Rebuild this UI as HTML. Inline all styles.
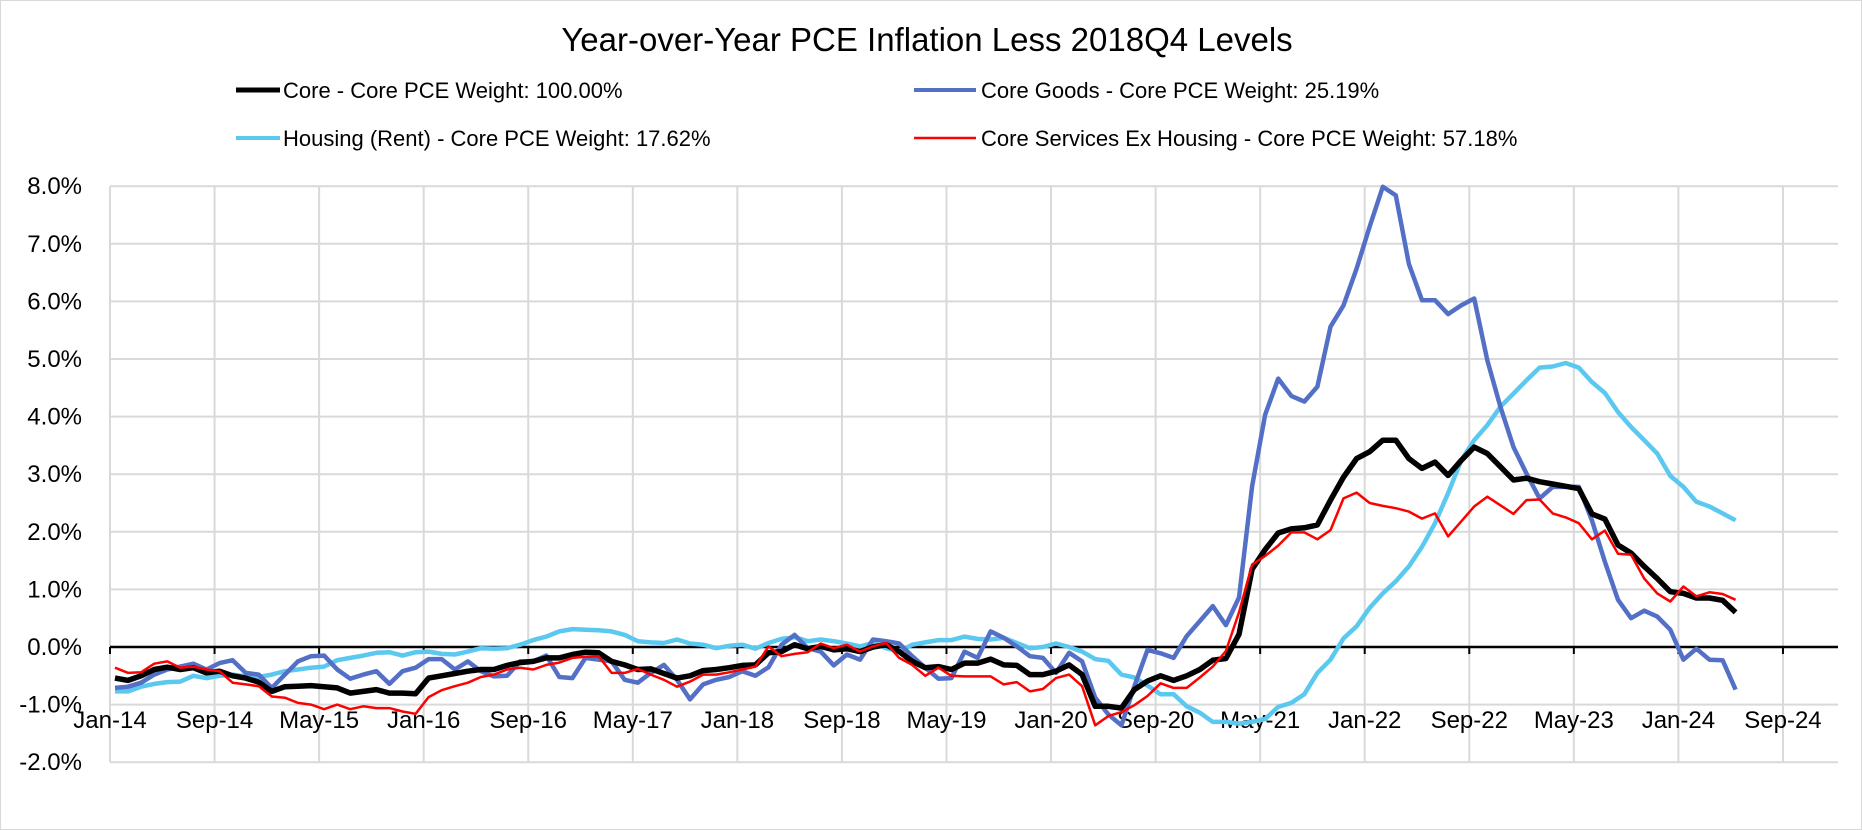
<!DOCTYPE html>
<html><head><meta charset="utf-8"><style>
html,body{margin:0;padding:0;background:#fff;}
#wrap{position:relative;width:1862px;height:830px;overflow:hidden;font-family:"Liberation Sans",sans-serif;}
</style></head><body>
<div id="wrap">
<svg id="chart" width="1862" height="830" viewBox="0 0 1862 830" xmlns="http://www.w3.org/2000/svg">
<rect x="0.5" y="0.5" width="1861" height="829" fill="#fff" stroke="#d9d9d9"/>
<text x="927" y="51" text-anchor="middle" font-size="33" fill="#000">Year-over-Year PCE Inflation Less 2018Q4 Levels</text>
<g>
<g><line x1="236" y1="90" x2="280" y2="90" stroke="#000" stroke-width="5"/><text x="283" y="98" font-size="22">Core - Core PCE Weight: 100.00%</text></g>
<g><line x1="914" y1="90" x2="976" y2="90" stroke="#5470C6" stroke-width="4"/><text x="981" y="98" font-size="22">Core Goods - Core PCE Weight: 25.19%</text></g>
<g><line x1="236" y1="138" x2="280" y2="138" stroke="#5BC8F0" stroke-width="4"/><text x="283" y="146" font-size="22">Housing (Rent) - Core PCE Weight: 17.62%</text></g>
<g><line x1="914" y1="138" x2="976" y2="138" stroke="#FF0000" stroke-width="2.5"/><text x="981" y="146" font-size="22">Core Services Ex Housing - Core PCE Weight: 57.18%</text></g>
</g>
<g id="grid"></g><g id="axes"></g><g id="series"></g>
</svg>
</div>
<script>
const yTicks=[-2,-1,0,1,2,3,4,5,6,7,8];
const xTickLabels=["Jan-14","Sep-14","May-15","Jan-16","Sep-16","May-17","Jan-18","Sep-18","May-19","Jan-20","Sep-20","May-21","Jan-22","Sep-22","May-23","Jan-24","Sep-24"];
const core=[-0.54,-0.58,-0.5,-0.39,-0.35,-0.39,-0.36,-0.45,-0.42,-0.5,-0.54,-0.61,-0.77,-0.69,-0.68,-0.67,-0.69,-0.71,-0.8,-0.77,-0.74,-0.8,-0.8,-0.81,-0.54,-0.5,-0.46,-0.42,-0.39,-0.39,-0.32,-0.27,-0.25,-0.19,-0.19,-0.13,-0.09,-0.1,-0.25,
-0.31,-0.39,-0.38,-0.46,-0.54,-0.5,-0.41,-0.39,-0.36,-0.32,-0.31,-0.1,-0.08,0.04,-0.03,0.01,-0.05,-0.03,-0.08,0,0.04,-0.08,-0.25,-0.36,-0.34,-0.39,-0.28,-0.28,-0.21,-0.31,-0.32,-0.48,-0.48,-0.42,-0.31,-0.48,-1.03,-1.03,
-1.06,-0.74,-0.59,-0.5,-0.58,-0.5,-0.39,-0.23,-0.2,0.22,1.35,1.69,1.98,2.05,2.07,
2.12,2.55,2.95,3.27,3.39,3.59,3.59,3.27,3.1,3.21,2.98,3.24,3.47,3.36,3.13,2.9,2.93,2.87,2.83,2.79,2.75,2.31,2.22,1.77,1.63,1.4,1.19,0.96,0.93,0.85,0.85,0.81,0.6];
const goods=[-0.71,-0.69,-0.62,-0.48,-0.39,-0.34,-0.29,-0.39,-0.28,-0.23,-0.45,-0.48,-0.71,-0.48,-0.25,-0.16,-0.15,-0.39,-0.55,-0.48,-0.42,-0.64,-0.42,-0.36,-0.21,-0.21,-0.39,-0.25,-0.42,-0.51,-0.5,-0.25,-0.25,-0.15,-0.52,-0.54,-0.19,-0.22,-0.25,
-0.57,-0.62,-0.45,-0.31,-0.57,-0.91,-0.65,-0.57,-0.52,-0.42,-0.5,-0.35,0.04,0.21,-0.02,-0.08,-0.32,-0.13,-0.22,0.13,0.1,0.06,-0.16,-0.36,-0.55,-0.54,-0.08,-0.19,0.27,0.16,0.01,-0.16,-0.19,-0.45,-0.1,-0.25,-0.88,-1.17,
-1.36,-0.68,-0.05,-0.11,-0.19,0.19,0.45,0.71,0.38,0.86,2.79,4.03,4.66,4.36,4.26,
4.52,5.56,5.93,6.57,7.3,7.99,7.84,6.65,6.02,6.02,5.78,5.93,6.05,4.98,4.17,3.47,3.01,2.58,2.78,2.78,2.78,2.2,1.48,0.82,0.5,0.63,0.53,0.3,-0.22,-0.03,-0.22,-0.23,-0.74];
const housing=[-0.77,-0.77,-0.69,-0.64,-0.61,-0.6,-0.5,-0.54,-0.5,-0.48,-0.51,-0.52,-0.48,-0.42,-0.39,-0.36,-0.34,-0.23,-0.19,-0.15,-0.1,-0.09,-0.15,-0.09,-0.08,-0.12,-0.13,-0.08,-0.02,-0.03,-0.02,0.04,0.12,0.18,0.27,0.31,0.3,0.29,0.27,
0.21,0.1,0.08,0.07,0.13,0.06,0.04,-0.02,0.02,0.04,-0.03,0.07,0.14,0.17,0.1,0.13,0.1,0.06,0.01,0.07,-0.02,-0.08,0.04,0.08,0.12,0.12,0.18,0.14,0.13,0.16,0.07,-0.02,0,0.06,0,-0.08,-0.21,-0.24,
-0.48,-0.53,-0.67,-0.82,-0.82,-1.03,-1.14,-1.3,-1.3,-1.33,-1.3,-1.25,-1.04,-0.97,-0.82,
-0.45,-0.22,0.15,0.36,0.68,0.93,1.14,1.4,1.74,2.15,2.67,3.24,3.59,3.85,4.17,4.4,4.63,4.85,4.87,4.93,4.85,4.6,4.41,4.08,3.82,3.59,3.36,2.97,2.78,2.52,2.44,2.32,2.2];
const servicesExHousing=[-0.36,-0.45,-0.44,-0.29,-0.25,-0.36,-0.34,-0.39,-0.42,-0.62,-0.65,-0.68,-0.86,-0.88,-0.97,-1.0,-1.08,-1.0,-1.08,-1.03,-1.06,-1.06,-1.12,-1.16,-0.87,-0.75,-0.68,-0.62,-0.52,-0.48,-0.39,-0.36,-0.39,-0.31,-0.27,-0.19,-0.17,-0.16,-0.45,
-0.45,-0.38,-0.48,-0.57,-0.69,-0.6,-0.48,-0.48,-0.44,-0.39,-0.34,0.01,-0.16,-0.12,-0.09,0.06,-0.02,0.04,-0.08,0.01,0.07,-0.19,-0.31,-0.5,-0.36,-0.5,-0.51,-0.51,-0.51,-0.65,-0.61,-0.77,-0.73,-0.54,-0.48,-0.68,-1.36,-1.2,
-1.13,-1.01,-0.85,-0.63,-0.71,-0.71,-0.53,-0.34,-0.07,0.6,1.43,1.58,1.76,1.99,1.99,
1.87,2.03,2.58,2.68,2.5,2.45,2.41,2.35,2.23,2.32,1.92,2.18,2.44,2.61,2.46,2.31,2.55,2.56,2.32,2.25,2.15,1.87,2.02,1.62,1.6,1.19,0.93,0.79,1.05,0.88,0.95,0.92,0.82];

const NS="http://www.w3.org/2000/svg";
const L=110,R=1838,PM=13.07;
function xMonth(m){return L+m*PM;}
function xData(i){return xMonth(i+0.38);}
function y(v){return 647-v*57.6;}
function mk(tag,attrs,parent){const e=document.createElementNS(NS,tag);for(const k in attrs)e.setAttribute(k,attrs[k]);parent.appendChild(e);return e;}
const grid=document.getElementById('grid'),axes=document.getElementById('axes'),ser=document.getElementById('series');
yTicks.forEach(t=>{
  if(t!==0){const g=mk('line',{x1:L,x2:R,y1:y(t),y2:y(t),stroke:'#d9d9d9','stroke-width':2},grid);
  
  }
  const tx=mk('text',{x:82,y:y(t)+8,'text-anchor':'end','font-size':24,fill:'#000'},axes);
  tx.textContent=t.toFixed(1)+'%';
  
  
});
xTickLabels.forEach((lab,k)=>{
  const xx=xMonth(k*8);
  const g=mk('line',{x1:xx,x2:xx,y1:y(8),y2:y(-2),stroke:'#d9d9d9','stroke-width':2},grid);
  
  
  const tk=mk('line',{x1:xx,x2:xx,y1:y(0),y2:y(0)+7,stroke:'#000','stroke-width':2},axes);
  
  
  const tx=mk('text',{x:xx,y:728,'text-anchor':'middle','font-size':24,fill:'#000'},axes);
  tx.textContent=lab;
  
  
});
const ax=mk('line',{x1:L,x2:R,y1:y(0),y2:y(0),stroke:'#000','stroke-width':2.5},axes);


function draw(arr,color,w,name){
  const d=arr.map((v,i)=>(i?'L':'M')+xData(i).toFixed(1)+' '+y(v).toFixed(1)).join(' ');
  const p=mk('path',{d:d,fill:'none',stroke:color,'stroke-width':w,'stroke-linejoin':'round'},ser);
  
  
}
draw(housing,'#5BC8F0',4.5,'housing-line');
draw(goods,'#5470C6',4.5,'core-goods-line');
draw(core,'#000000',5.5,'core-line');
draw(servicesExHousing,'#FF0000',2.5,'services-ex-housing-line');
</script>
</body></html>
